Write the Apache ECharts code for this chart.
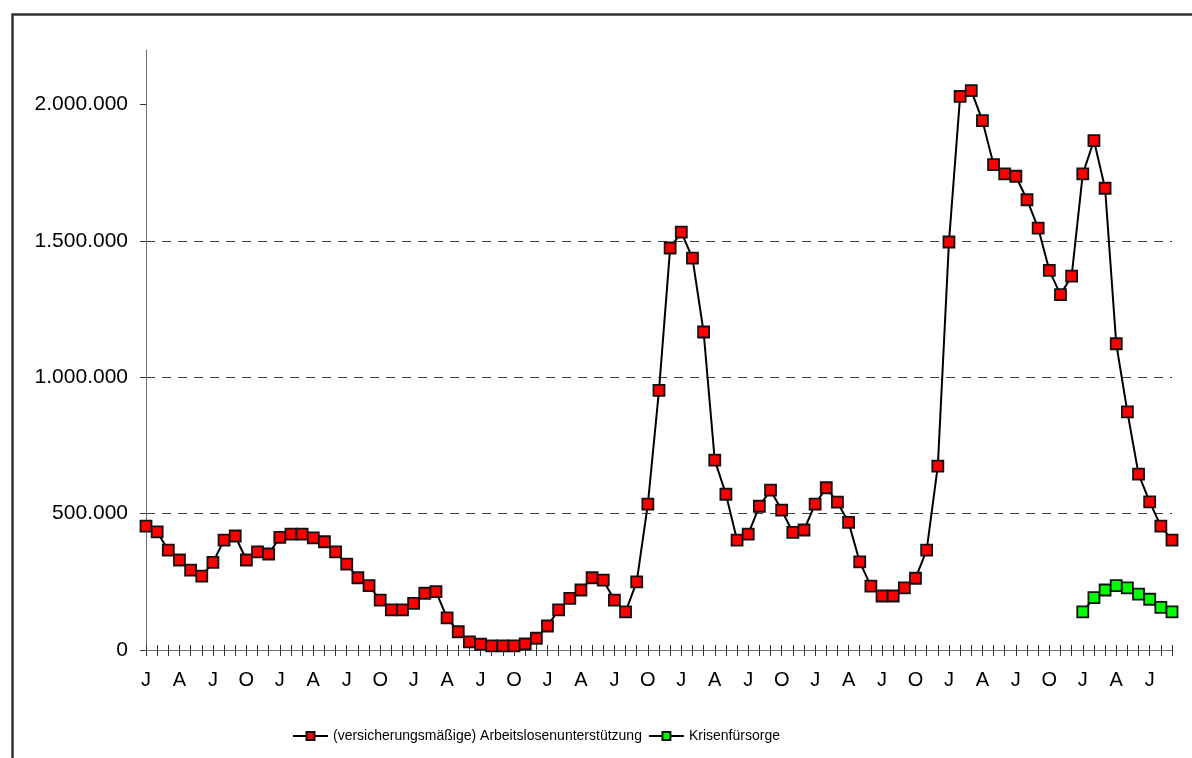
<!DOCTYPE html>
<html>
<head>
<meta charset="utf-8">
<script src="https://cdn.jsdelivr.net/npm/echarts@6/dist/echarts.min.js"></script>
<style>
  html, body { margin: 0; padding: 0; background: #fff; }
  #chart { width: 1192px; height: 758px; }
</style>
</head>
<body>
<div id="chart"></div>
<script>
// Monthly recipients, January 1920 – September 1927
const years = [1920, 1921, 1922, 1923, 1924, 1925, 1926, 1927];
const monthNames = ['Jan', 'Feb', 'Mär', 'Apr', 'Mai', 'Jun', 'Jul', 'Aug', 'Sep', 'Okt', 'Nov', 'Dez'];
const monthInitials = ['J', 'F', 'M', 'A', 'M', 'J', 'J', 'A', 'S', 'O', 'N', 'D'];
const lastMonthOf1927 = 9;

const categories = [];
years.forEach(function (y) {
  const count = y === 1927 ? lastMonthOf1927 : 12;
  for (let m = 0; m < count; m++) categories.push(monthNames[m] + ' ' + y);
});

const seriesNames = ['(versicherungsmäßige) Arbeitslosenunterstützung', 'Krisenfürsorge'];

const arbeitslosenunterstuetzung = [
  454000, 433000, 366000, 330000, 293000, 271000, 321000, 403000, 418000, 330000, 360000, 352000,
  413000, 425000, 425000, 411000, 397000, 360000, 315000, 265000, 236000, 183000, 147000, 147000,
  171000, 208000, 214000, 118000, 67000, 30000, 21000, 15000, 15000, 15000, 22000, 43000,
  88000, 147000, 189000, 220000, 265000, 256000, 183000, 140000, 250000, 535000, 952000, 1474000,
  1532000, 1437000, 1166000, 696000, 571000, 403000, 425000, 527000, 586000, 513000, 431000, 440000,
  535000, 595000, 542000, 468000, 323000, 234000, 198000, 198000, 228000, 263000, 366000, 674000,
  1496000, 2030000, 2051000, 1941000, 1780000, 1746000, 1737000, 1651000, 1547000, 1392000, 1303000, 1371000,
  1746000, 1868000, 1693000, 1123000, 873000, 645000, 543000, 454000, 403000
];

// Krisenfürsorge is reported from January 1927 on
const krisenfuersorgeStart = 'Jan 1927';
const krisenfuersorgeValues = [140000, 192000, 220000, 236000, 228000, 205000, 186000, 156000, 140000];

const yTickValues = [0, 500000, 1000000, 1500000, 2000000];

const startIdx = categories.indexOf(krisenfuersorgeStart);
const krisenfuersorge = categories.map(function (c, i) {
  const k = i - startIdx;
  return k >= 0 && k < krisenfuersorgeValues.length ? krisenfuersorgeValues[k] : null;
});

function germanThousands(v) {
  return String(v).replace(/\B(?=(\d{3})+(?!\d))/g, '.');
}

const FONT = '"Liberation Sans", Arial, sans-serif';

const chart = echarts.init(document.getElementById('chart'), null, { renderer: 'canvas' });

chart.setOption({
  animation: false,
  backgroundColor: '#ffffff',
  graphic: [{
    type: 'rect',
    left: 10, top: 12,
    shape: { width: 1300, height: 900 },
    style: { fill: 'none', stroke: '#333333', lineWidth: 2.5 },
    silent: true
  }],
  grid: { left: 146, right: 20, top: 50, bottom: 108, containLabel: false },
  legend: {
    left: 287,
    top: 724,
    itemWidth: 35,
    itemHeight: 10,
    itemGap: 6,
    textStyle: {
      fontFamily: FONT,
      fontSize: 14,
      color: '#000'
    },
    data: seriesNames
  },
  xAxis: [{
    type: 'category',
    data: categories,
    boundaryGap: false,
    axisLine: { lineStyle: { color: '#707070', width: 1 } },
    axisTick: { show: true, interval: 0, length: 6, lineStyle: { color: '#333', width: 1 } },
    axisLabel: {
      interval: 2,
      margin: 20,
      fontFamily: FONT,
      fontSize: 20,
      color: '#000',
      formatter: function (value, index) { return monthInitials[index % 12]; }
    },
    splitLine: { show: false }
  }, {
    type: 'category',
    data: categories,
    boundaryGap: false,
    position: 'bottom',
    axisLine: { show: false },
    axisTick: { show: true, inside: true, interval: 0, length: 5, lineStyle: { color: '#333', width: 1 } },
    axisLabel: { show: false },
    splitLine: { show: false }
  }],
  yAxis: {
    type: 'value',
    min: 0,
    max: 2200000,
    interval: 500000,
    axisLine: { show: true, lineStyle: { color: '#707070', width: 1 } },
    axisTick: { show: true, length: 6, customValues: yTickValues, lineStyle: { color: '#333', width: 1 } },
    axisLabel: {
      margin: 18,
      fontFamily: FONT,
      fontSize: 21,
      color: '#000',
      customValues: yTickValues,
      formatter: function (v) { return v % 500000 === 0 ? germanThousands(v) : ''; }
    },
    splitLine: {
      show: true,
      showMinLine: false,
      showMaxLine: false,
      lineStyle: { color: '#404040', width: 1, type: [9, 7] }
    }
  },
  series: [{
    name: seriesNames[0],
    type: 'line',
    data: arbeitslosenunterstuetzung,
    symbol: 'rect',
    symbolSize: 11,
    showAllSymbol: true,
    lineStyle: { color: '#000', width: 2 },
    itemStyle: { color: '#ff0000', borderColor: '#111', borderWidth: 1.8 },
    z: 3
  }, {
    name: seriesNames[1],
    type: 'line',
    data: krisenfuersorge,
    symbol: 'rect',
    symbolSize: 11,
    showAllSymbol: true,
    connectNulls: false,
    lineStyle: { color: '#000', width: 2 },
    itemStyle: { color: '#00ff00', borderColor: '#111', borderWidth: 1.8 },
    z: 3
  }]
});
</script>
</body>
</html>
